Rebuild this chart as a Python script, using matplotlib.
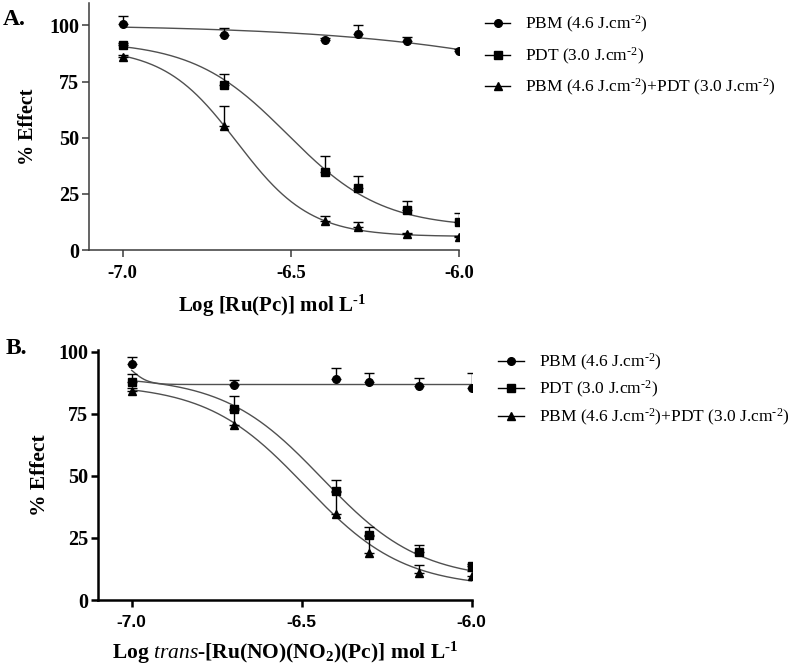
import numpy as np
import matplotlib
matplotlib.use("Agg")
import matplotlib.pyplot as plt

plt.rcParams['font.family'] = ['Liberation Serif', 'DejaVu Serif']
plt.rcParams['mathtext.fontset'] = 'custom'
plt.rcParams['mathtext.rm'] = 'Liberation Serif'
plt.rcParams['mathtext.it'] = 'Liberation Serif:italic'
plt.rcParams['mathtext.bf'] = 'Liberation Serif:bold'

# ---------------- data ----------------
log_conc = [-7.0, -6.699, -6.398, -6.301, -6.155, -6.0]

# Panel A  (Ru(Pc))
a_pbm = [100.7, 95.7, 93.4, 96.3, 93.0, 88.6]
a_pbm_err = [3.3, 3.3, 0.8, 3.7, 2.0, 0.8]
a_pdt = [91.2, 73.7, 34.7, 27.4, 17.6, 12.5]
a_pdt_err = [1.0, 4.9, 7.3, 5.6, 4.3, 3.9]
a_comb = [86.0, 55.4, 13.1, 10.1, 7.1, 5.8]
a_comb_err = [1.0, 8.9, 2.1, 2.2, 0.6, 0.5]

# Panel B  (trans-[Ru(NO)(NO2)(Pc)])
b_pbm = [94.9, 86.5, 88.9, 87.7, 86.3, 85.3]
b_pbm_err = [3.1, 2.1, 4.4, 3.6, 3.0, 6.0]
b_pdt = [87.9, 76.9, 44.0, 26.2, 19.3, 13.7]
b_pdt_err = [3.0, 5.4, 4.2, 3.3, 2.8, 1.0]
b_comb = [84.2, 70.5, 34.5, 18.8, 10.7, 9.7]
b_comb_err = [1.0, 6.0, 9.0, 7.0, 3.4, 2.0]

# fitted 4-parameter logistic curves: (top, bottom, logIC50, hill)
a_pbm_fit = (100.5, 0.0, -5.1, 1.0)
a_pdt_fit = (93.0, 10.0, -6.51, 3.1)
a_comb_fit = (90.0, 6.0, -6.66, 4.0)
b_pbm_fit = (98.2, 86.8, -7.0, 18.0)
b_pdt_fit = (90.0, 8.0, -6.44, 3.0)
b_comb_fit = (87.0, 5.0, -6.49, 3.0)

labels = ["PBM (4.6 J.cm$^{\\text{-}2}$)", "PDT (3.0 J.cm$^{\\text{-}2}$)",
          "PBM (4.6 J.cm$^{\\text{-}2}$)+PDT (3.0 J.cm$^{\\text{-}2}$)"]
x_ticks = [-7.0, -6.5, -6.0]
y_ticks = [0, 25, 50, 75, 100]


def logistic(x, p):
    top, bottom, ic, h = p
    return bottom + (top - bottom) / (1 + 10 ** ((x - ic) * h))


fig = plt.figure(figsize=(8, 6.69), dpi=100)

axA = fig.add_axes([89/800, 1 - 250/669, 370/800, 247/669])
axB = fig.add_axes([97.7/800, 1 - 600/669, 374/800, 250/669])

curve_col = '#505050'


def draw(ax, series, fits, ylim_top, xtickfont, xtsize, spine_col, spine_lw):
    xs = np.linspace(-7.0, -6.0, 300)
    markers = ['o', 's', '^']
    handles = []
    for (vals, errs), fit, m in zip(series, fits, markers):
        ax.plot(xs, logistic(xs, fit), color=curve_col, lw=1.0, zorder=2)
        ax.errorbar(log_conc, vals, yerr=[np.zeros(len(errs)), errs],
                    fmt='none', ecolor='black', elinewidth=1.0, capsize=3.5,
                    capthick=1.0, zorder=3)
        ax.plot(log_conc, vals, ls='none', marker=m, color='black',
                markersize=6 if m != 'o' else 5.5, zorder=4)
        h, = ax.plot([], [], color='black', lw=1.0, marker=m,
                     markersize=5.5 if m != '^' else 6)
        handles.append(h)
    ax.set_xlim(-7.1, -6.0)
    ax.set_ylim(0, ylim_top)
    ax.set_xticks(x_ticks)
    ax.set_xticklabels([f"{t:.1f}" for t in x_ticks], fontweight='bold',
                       fontsize=xtsize, family=xtickfont)
    ax.set_yticks(y_ticks)
    ax.set_yticklabels([str(t) for t in y_ticks], fontweight='bold', fontsize=14.5)
    for s in ['top', 'right']:
        ax.spines[s].set_visible(False)
    for s in ['left', 'bottom']:
        ax.spines[s].set_linewidth(spine_lw)
        ax.spines[s].set_color(spine_col)
    ax.tick_params(direction='out', length=5, width=spine_lw, color=spine_col, pad=2)
    ax.tick_params(axis='x', pad=6)
    return handles


hA = draw(axA, [(a_pbm, a_pbm_err), (a_pdt, a_pdt_err), (a_comb, a_comb_err)],
          [a_pbm_fit, a_pdt_fit, a_comb_fit], 110, 'Liberation Serif', 13.5,
          '#3a3a3a', 1.1)
axA.set_ylabel('% Effect', fontweight='bold', fontsize=14.5)
axA.yaxis.set_label_coords(-0.138, 0.5)
axA.set_xlabel('Log [Ru(Pc)] mol L$^{\\text{-}\\mathbf{1}}$', fontweight='bold',
               fontsize=15)
axA.xaxis.set_label_coords(0.496, -0.175)

hB = draw(axB, [(b_pbm, b_pbm_err), (b_pdt, b_pdt_err), (b_comb, b_comb_err)],
          [b_pbm_fit, b_pdt_fit, b_comb_fit], 100.7, 'Liberation Sans', 12.5,
          'black', 1.8)
axB.set_ylabel('% Effect', fontweight='bold', fontsize=15.5)
axB.yaxis.set_label_coords(-0.128, 0.5)
axB.set_xlabel('Log $\\mathit{trans}$-[Ru(NO)(NO$_\\mathbf{2}$)(Pc)] mol L$^{\\text{-}\\mathbf{1}}$',
               fontweight='bold', fontsize=15.5)
axB.xaxis.set_label_coords(0.50, -0.16)

fig.legend(hA, labels, loc='upper left', bbox_to_anchor=(485/800, 1 - 14/669),
           frameon=False, fontsize=12.5, handlelength=1.45, handletextpad=0.85,
           labelspacing=0.6, borderpad=0, borderaxespad=0)
fig.legend(hB, labels, loc='upper left', bbox_to_anchor=(498/800, 1 - 352/669),
           frameon=False, fontsize=12.5, handlelength=1.5, handletextpad=0.85,
           labelspacing=0.35, borderpad=0, borderaxespad=0)

fig.text(3/800, 1 - 25/669, 'A.', fontsize=17, fontweight='bold', va='baseline')
fig.text(6/800, 1 - 354/669, 'B.', fontsize=17, fontweight='bold', va='baseline')

fig.savefig('out.png', dpi=100)
